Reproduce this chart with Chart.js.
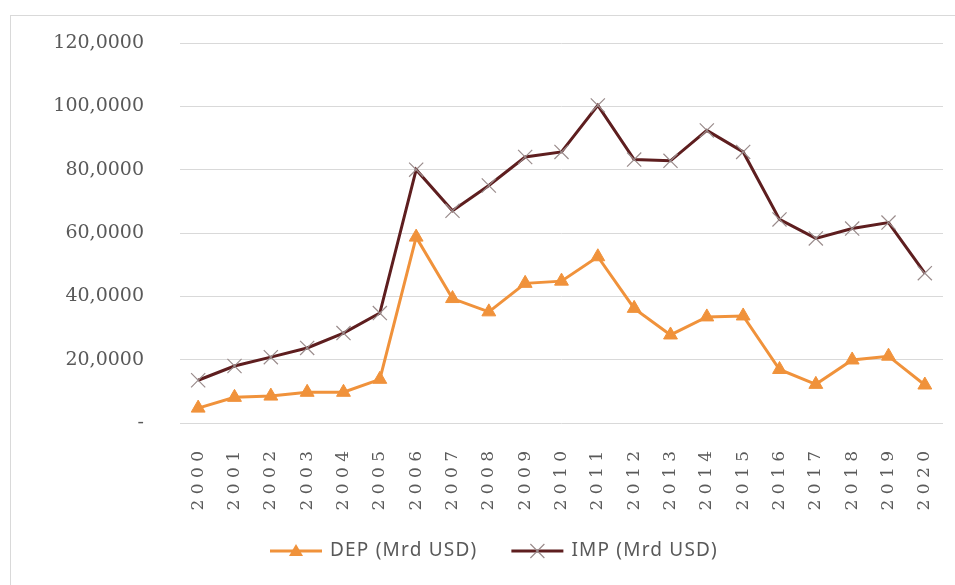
<!DOCTYPE html>
<html>
<head>
<meta charset="utf-8">
<script src="https://cdn.jsdelivr.net/npm/chart.js@4"></script>
<style>
  html, body { margin: 0; padding: 0; background: #fff; }
  #wrap { width: 955px; height: 585px; position: relative; }
</style>
</head>
<body>
<div id="wrap"><canvas id="chart" width="955" height="585"></canvas></div>
<script>
const years = ['2000', '2001', '2002', '2003', '2004', '2005', '2006', '2007', '2008', '2009', '2010',
  '2011', '2012', '2013', '2014', '2015', '2016', '2017', '2018', '2019', '2020'];
const depValues = [4.7, 8.1, 8.5, 9.7, 9.7, 13.8, 58.7, 39.3, 35.1, 44.1, 44.8,
  52.5, 36.2, 27.8, 33.5, 33.8, 16.9, 12.2, 19.9, 21.1, 12.0];
const impValues = [13.5, 18.0, 20.8, 23.7, 28.4, 34.7, 80.0, 67.0, 75.0, 84.0, 85.6,
  100.3, 83.2, 82.8, 92.4, 85.6, 64.3, 58.3, 61.4, 63.3, 47.3];
const seriesNames = ['DEP (Mrd USD)', 'IMP (Mrd USD)'];

const depColor = '#f0923b';
const impColor = '#5e1e1f';
const textColor = '#595959';
const serif = '"DejaVu Serif", "Liberation Serif", serif';

// frame round the chart, like the Excel chart area border
const framePlugin = {
  id: 'frame',
  beforeDraw(chart) {
    const ctx = chart.ctx;
    ctx.save();
    ctx.strokeStyle = '#d9d9d9';
    ctx.lineWidth = 1;
    ctx.strokeRect(10.5, 15.5, 960, 600);
    ctx.restore();
  }
};

// legend drawn as line + marker, Excel style
const legendPlugin = {
  id: 'lineLegend',
  afterDraw(chart) {
    const ctx = chart.ctx;
    ctx.save();
    ctx.font = '19px "Noto Sans", sans-serif';
    ctx.letterSpacing = '1.2px';
    ctx.textBaseline = 'middle';
    const y = 551;
    const lineW = 52;
    const gap = 8;
    const between = 34;
    let x = 270;
    chart.data.datasets.forEach((ds, i) => {
      ctx.strokeStyle = ds.borderColor;
      ctx.lineWidth = 3;
      ctx.beginPath();
      ctx.moveTo(x, y);
      ctx.lineTo(x + lineW, y);
      ctx.stroke();
      const cx = x + lineW / 2;
      if (ds.pointStyle === 'triangle') {
        ctx.fillStyle = ds.pointBackgroundColor;
        ctx.beginPath();
        ctx.moveTo(cx, y - 7);
        ctx.lineTo(cx + 7, y + 5);
        ctx.lineTo(cx - 7, y + 5);
        ctx.closePath();
        ctx.fill();
      } else {
        ctx.strokeStyle = ds.pointBorderColor;
        ctx.lineWidth = 1.2;
        ctx.beginPath();
        ctx.moveTo(cx - 7, y - 7);
        ctx.lineTo(cx + 7, y + 7);
        ctx.moveTo(cx + 7, y - 7);
        ctx.lineTo(cx - 7, y + 7);
        ctx.stroke();
      }
      ctx.fillStyle = textColor;
      ctx.fillText(seriesNames[i], x + lineW + gap, y);
      x += lineW + gap + ctx.measureText(seriesNames[i]).width + between;
    });
    ctx.restore();
  }
};

new Chart(document.getElementById('chart'), {
  type: 'line',
  data: {
    labels: years,
    datasets: [
      {
        label: seriesNames[0],
        data: depValues,
        borderColor: depColor,
        backgroundColor: depColor,
        borderWidth: 3,
        pointStyle: 'triangle',
        pointRadius: 8,
        pointBackgroundColor: depColor,
        pointBorderColor: depColor,
        pointBorderWidth: 1,
        tension: 0
      },
      {
        label: seriesNames[1],
        data: impValues,
        borderColor: impColor,
        backgroundColor: impColor,
        borderWidth: 3,
        pointStyle: 'crossRot',
        pointRadius: 10,
        pointBorderColor: '#9a8c8c',
        pointBorderWidth: 1.2,
        tension: 0
      }
    ]
  },
  options: {
    responsive: false,
    animation: false,
    layout: { padding: { left: 30, right: 12, top: 43, bottom: 62 } },
    plugins: {
      legend: { display: false },
      tooltip: { enabled: false }
    },
    scales: {
      x: {
        offset: true,
        grid: { display: false },
        border: { display: false },
        ticks: {
          color: textColor,
          font: { family: serif, size: 17 },
          maxRotation: 90,
          minRotation: 90,
          padding: 20,
          autoSkip: false,
          callback: function (value) {
            return this.getLabelForValue(value).split('').join(' ');
          }
        },
        afterFit(scale) {
          scale.height = 100;
          scale.paddingLeft = 0;
          scale.paddingRight = 0;
        }
      },
      y: {
        min: 0,
        max: 120,
        grid: { color: '#d9d9d9', lineWidth: 1, drawTicks: false },
        border: { display: false },
        ticks: {
          stepSize: 20,
          color: textColor,
          font: { family: serif, size: 19 },
          padding: 36,
          callback: (v) => (v === 0 ? '-' : v.toFixed(4).replace('.', ','))
        },
        afterFit(scale) {
          scale.width = 150;
          scale.paddingTop = 0;
          scale.paddingBottom = 0;
        }
      }
    }
  },
  plugins: [framePlugin, legendPlugin]
});
</script>
</body>
</html>
